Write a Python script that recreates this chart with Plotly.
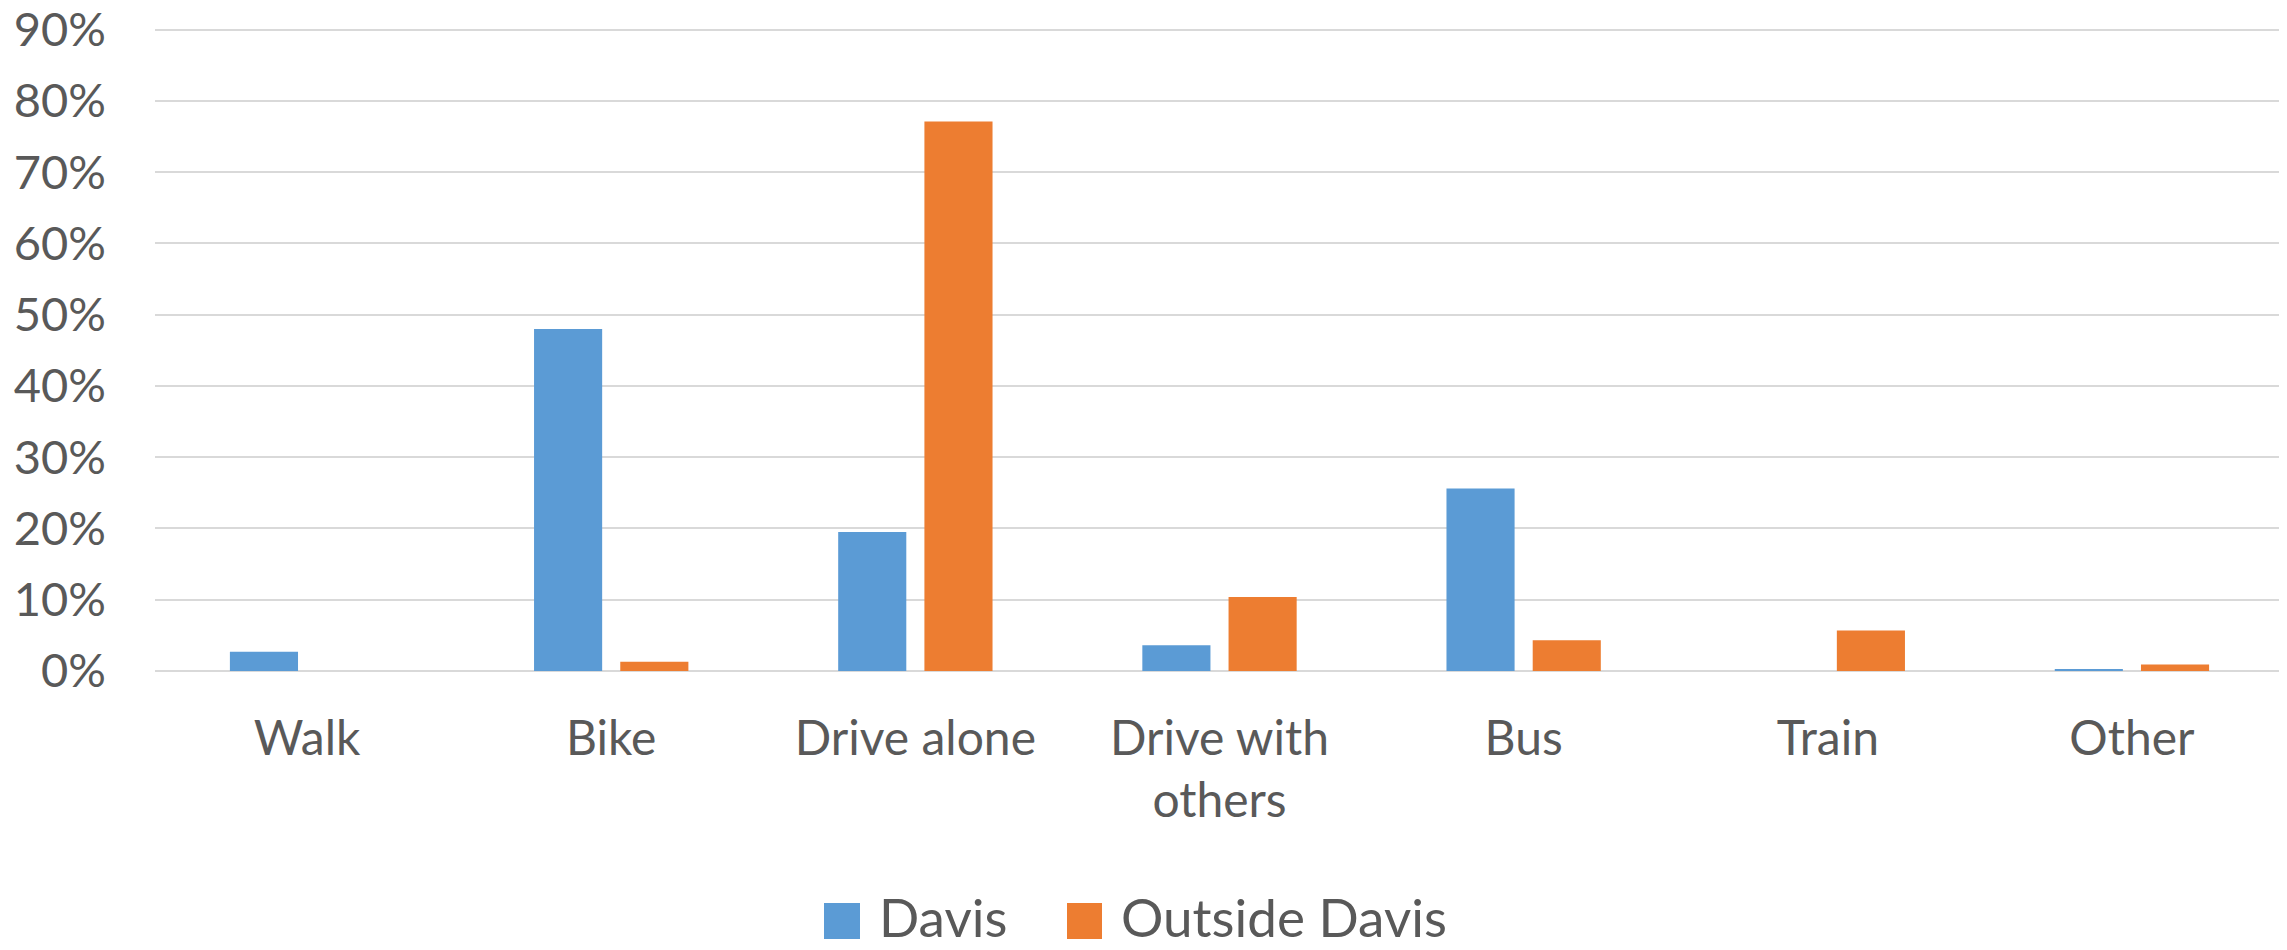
import plotly.graph_objects as go

categories = ["Walk", "Bike", "Drive alone", "Drive with<br>others", "Bus", "Train", "Other"]
davis = [2.7, 48.0, 19.5, 3.6, 25.6, 0.0, 0.2]
outside_davis = [0.0, 1.3, 77.1, 10.4, 4.3, 5.7, 0.9]
series_names = ["Davis", "Outside Davis"]
colors = ["#5B9BD5", "#ED7D31"]
y_ticks = list(range(0, 100, 10))
y_tick_labels = [f"{v}%" for v in y_ticks]

OFF = 8  # default page body margin
Y_TOP = 90.5
W, H = 2287 - OFF, 950 - OFF
PXU = (671 - 29.3) / 90.0
L, R = 155 - OFF, 3
T = 29.3 - (Y_TOP - 90) * PXU - OFF
B = H - (671 - OFF)
FONT = "Lato, 'Open Sans', sans-serif"
TXT = "#595959"

fig = go.Figure()
for name, vals, col in zip(series_names, [davis, outside_davis], colors):
    fig.add_trace(go.Bar(x=categories, y=vals, name=name, marker=dict(color=col, line=dict(width=0)),
                         showlegend=False))

def px2paper(x, y):
    x, y = x - OFF, y - OFF
    return (x - L) / (W - L - R), (H - B - y) / (H - T - B)

# manual legend (large swatches like the original)
leg = [(824, 860, 877), (1067, 1102, 1119)]
for (x0, x1, tx), name, col in zip(leg, series_names, colors):
    a0, b0 = px2paper(x0, 939)
    a1, b1 = px2paper(x1, 903)
    fig.add_shape(type="rect", xref="paper", yref="paper", x0=a0, x1=a1, y0=b0, y1=b1,
                  fillcolor=col, line=dict(width=0))
    ax, ay = px2paper(tx, 917)
    fig.add_annotation(xref="paper", yref="paper", x=ax, y=ay, text=name, showarrow=False,
                       xanchor="left", yanchor="middle", font=dict(family=FONT, size=53, color=TXT))

fig.update_layout(
    width=W, height=H,
    margin=dict(l=L, r=R, t=T, b=B, autoexpand=False),
    paper_bgcolor="white", plot_bgcolor="white",
    barmode="group", bargap=0.433, bargroupgap=0.21,
    font=dict(family=FONT, color=TXT),
    xaxis=dict(tickfont=dict(size=48, color=TXT), showgrid=False, showline=False, ticks="",
               ticklabelstandoff=35, automargin=False),
    yaxis=dict(range=[0, Y_TOP], tickvals=y_ticks, ticktext=y_tick_labels, tickfont=dict(size=47, color=TXT),
               showgrid=True, gridcolor="#D9D9D9", gridwidth=2, zeroline=True, zerolinecolor="#D9D9D9",
               zerolinewidth=2, showline=False, ticks="", ticklabelstandoff=48,
               ticklabeloverflow="allow", automargin=False),
)

fig.write_html("out.html")
